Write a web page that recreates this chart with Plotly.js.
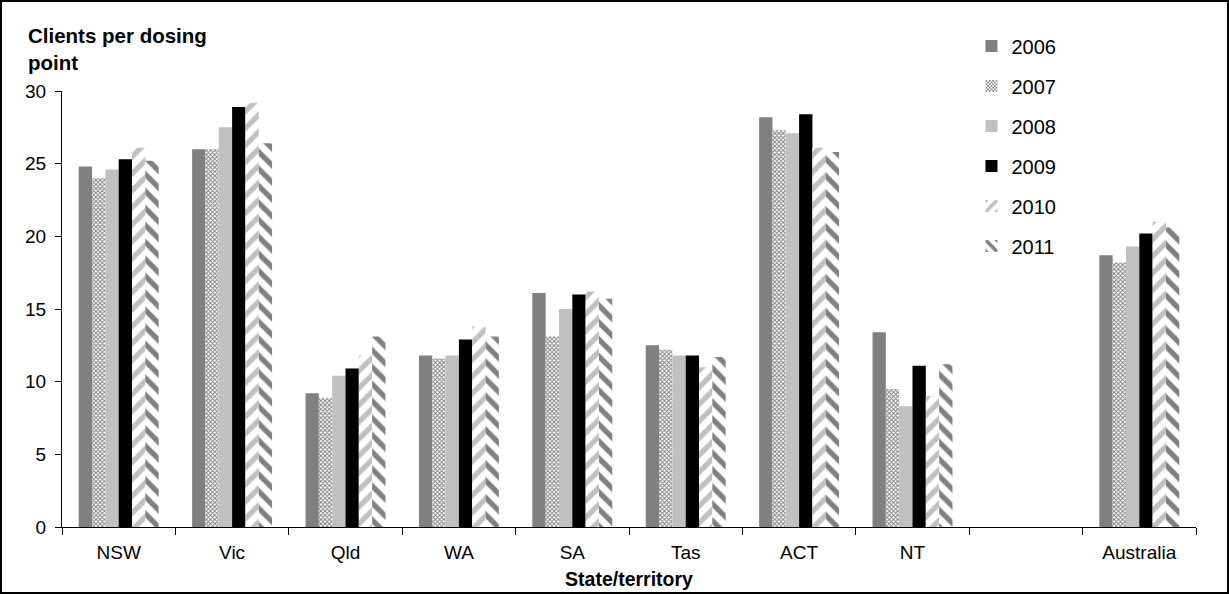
<!DOCTYPE html>
<html>
<head>
<meta charset="utf-8">
<script src="https://cdn.plot.ly/plotly-3.0.1.min.js"></script>
<style>
  html, body { margin: 0; padding: 0; background: #fff; }
  #chart { width: 1229px; height: 594px; }
  #frame { position: absolute; left: 0; top: 0; width: 1229px; height: 594px; box-sizing: border-box; border: 2px solid #000; pointer-events: none; }
</style>
</head>
<body>
<div id="chart"></div>
<div id="frame"></div>
<script>
const categories = ["NSW", "Vic", "Qld", "WA", "SA", "Tas", "ACT", "NT", " ", "Australia"];
const years = ["2006", "2007", "2008", "2009", "2010", "2011"];
const v2006 = [24.8, 26.0, 9.2, 11.8, 16.1, 12.5, 28.2, 13.4, null, 18.7];
const v2007 = [24.0, 26.0, 8.9, 11.6, 13.1, 12.2, 27.3, 9.5, null, 18.2];
const v2008 = [24.6, 27.5, 10.4, 11.8, 15.0, 11.8, 27.1, 8.3, null, 19.3];
const v2009 = [25.3, 28.9, 10.9, 12.9, 16.0, 11.8, 28.4, 11.1, null, 20.2];
const v2010 = [26.1, 29.2, 11.8, 13.8, 16.2, 11.0, 26.1, 9.0, null, 21.0];
const v2011 = [25.2, 26.4, 13.1, 13.1, 15.7, 11.7, 25.8, 11.2, null, 20.6];
const seriesValues = [v2006, v2007, v2008, v2009, v2010, v2011];

const markers = [
  { color: "#808080" },
  { color: "#ffffff", pattern: { shape: "x", fgcolor: "#808080", bgcolor: "#ffffff", size: 3, solidity: 0.55 } },
  { color: "#c0c0c0" },
  { color: "#000000" },
  { color: "#ffffff", pattern: { shape: "/", fgcolor: "#c0c0c0", bgcolor: "#ffffff", size: 12, solidity: 0.45 } },
  { color: "#ffffff", pattern: { shape: "\\", fgcolor: "#808080", bgcolor: "#ffffff", size: 12, solidity: 0.45 } }
];

const font = "Liberation Sans, Arial, sans-serif";

const traces = years.map((y, i) => ({
  type: "bar",
  name: y,
  x: categories,
  y: seriesValues[i],
  legendgroup: y,
  marker: Object.assign({ line: { width: 0 } }, markers[i]),
  hoverinfo: "x+y+name"
}));

const layout = {
  width: 1229,
  height: 594,
  margin: { l: 62, r: 33, t: 91, b: 67 },
  paper_bgcolor: "#ffffff",
  plot_bgcolor: "#ffffff",
  font: { family: font, size: 19, color: "#000" },
  barmode: "group",
  bargap: 0.295,
  bargroupgap: 0,
  showlegend: true,
  legend: {
    x: 0.802, y: 1.148, xanchor: "left", yanchor: "top",
    traceorder: "grouped", tracegroupgap: 11,
    font: { family: font, size: 20, color: "#000" },
    bgcolor: "rgba(0,0,0,0)"
  },
  xaxis: {
    type: "category",
    showline: true, linecolor: "#000", linewidth: 1,
    ticks: "outside", tickson: "boundaries", ticklen: 7, tickcolor: "#000",
    ticklabelstandoff: 8,
    showgrid: false, zeroline: false,
    tickfont: { family: font, size: 19 },
    title: { text: "<b>State/territory</b>", font: { family: font, size: 19.5 }, standoff: 10 }
  },
  yaxis: {
    range: [0, 30], dtick: 5, tick0: 0,
    showline: true, linecolor: "#000", linewidth: 1,
    ticks: "outside", ticklen: 6, tickcolor: "#000",
    ticklabelstandoff: 5,
    showgrid: false, zeroline: false,
    tickfont: { family: font, size: 19 }
  },
  annotations: [
    {
      text: "<b>Clients per dosing<br>point</b>",
      xref: "paper", yref: "paper", x: -0.032, y: 1.158,
      xanchor: "left", yanchor: "top", align: "left", showarrow: false,
      font: { family: font, size: 20.5, color: "#000" }
    }
  ]
};

Plotly.newPlot("chart", traces, layout, { displayModeBar: false, staticPlot: true });
</script>
</body>
</html>
